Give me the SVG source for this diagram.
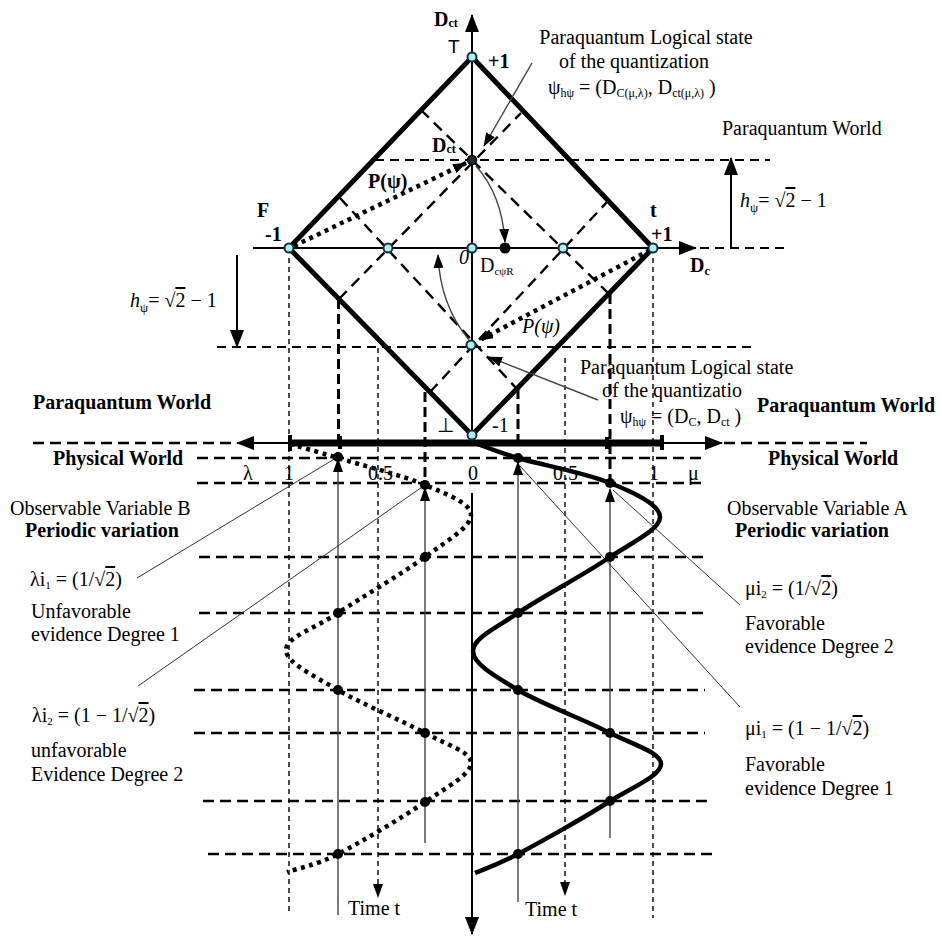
<svg xmlns="http://www.w3.org/2000/svg" width="942" height="936" viewBox="0 0 942 936">
<defs>
<marker id="ah" markerUnits="userSpaceOnUse" markerWidth="18" markerHeight="14" refX="17" refY="7" orient="auto-start-reverse"><path d="M0,0 L18,7 L0,14 z" fill="#000"/></marker>
<marker id="ahs" markerUnits="userSpaceOnUse" markerWidth="14" markerHeight="10" refX="13" refY="5" orient="auto-start-reverse"><path d="M0,0 L14,5 L0,10 z" fill="#000"/></marker>
</defs>
<style>
.t{font-family:"Liberation Serif","Times New Roman",serif;font-size:20px;fill:#000}
.b{font-weight:bold}
.i{font-style:italic}
.thick{stroke:#000;stroke-width:5;fill:none;stroke-linejoin:miter}
.axis{stroke:#000;stroke-width:2;fill:none}
.dg{stroke:#000;stroke-width:2.4;stroke-dasharray:11 7;fill:none}
.dh{stroke:#000;stroke-width:2.6;stroke-dasharray:11 6;fill:none}
.dl{stroke:#000;stroke-width:1.8;stroke-dasharray:9 6;fill:none}
.dt{stroke:#000;stroke-width:1.4;stroke-dasharray:5 4;fill:none}
.dv{stroke:#000;stroke-width:3;stroke-dasharray:10 5;fill:none}
.thin{stroke:#444;stroke-width:1.4;fill:none}
.lead{stroke:#333;stroke-width:1;fill:none}
.dotted{stroke:#000;stroke-width:4.5;stroke-dasharray:4 4.5;fill:none}
.dot{fill:#000}
.node{fill:#aeeef5;stroke:#1b2c3c;stroke-width:2}
</style>

<g id="grid">
<path class="dl" d="M375,160 L770,160"/>
<path class="dl" d="M217,347 L752,347"/>
<path class="dl" d="M700,248 L790,248"/>
<path class="dh" d="M33,443 L232,443 M724,443 L867,443"/>
<path class="dh" d="M197,458 L705,458"/>
<path class="dh" d="M197,483 L703,483"/>
<path class="dh" d="M199,557 L708,557"/>
<path class="dh" d="M199,613 L708,613"/>
<path class="dh" d="M194,690 L705,690"/>
<path class="dh" d="M194,733 L705,733"/>
<path class="dh" d="M203,801 L713,801"/>
<path class="dh" d="M208,854 L718,854"/>
<path class="dt" d="M289,258 L289,913"/>
<path class="dt" d="M653,258 L653,918"/>
<path class="dt" d="M378,348 L378,897" marker-end="url(#ahs)"/>
<path class="dt" d="M565,358 L565,895" marker-end="url(#ahs)"/>
<path class="dv" d="M338.5,299 L338.5,443"/>
<path class="dv" d="M425,392 L425,482"/>
<path class="dv" d="M518,389 L518,443"/>
<path class="dv" d="M610,294 L610,480"/>
<path class="thin" d="M338,459 L338,915" marker-start="url(#ahs)"/>
<path class="thin" d="M425,488 L425,843" marker-start="url(#ahs)"/>
<path class="thin" d="M518,462 L518,902" marker-start="url(#ahs)"/>
<path class="thin" d="M610,489 L610,838" marker-start="url(#ahs)"/>
</g>

<g id="diamond">
<path class="dg" d="M339,299 L521,113"/>
<path class="dg" d="M430,392 L607,202"/>
<path class="dg" d="M421,110 L609,294"/>
<path class="dg" d="M340,198 L517,389"/>
<polygon class="thick" points="472,57 653,248 472,435 289,248"/>
</g>

<g id="axes">
<path class="axis" d="M472,442 L472,15" marker-end="url(#ah)"/>
<path class="axis" d="M472,493 L472,934" marker-end="url(#ah)"/>
<path class="axis" d="M253,248 L696,248" marker-end="url(#ah)"/>
<path class="axis" d="M237,443 L722,443" marker-start="url(#ah)" marker-end="url(#ah)"/>
<path stroke="#000" stroke-width="7" d="M288,443 L664,443"/>
<path stroke="#000" stroke-width="4" d="M290,435 L290,451 M340,436 L340,449 M607,437 L607,449 M662,435 L662,450"/>
<path class="axis" d="M731,248 L731,158" marker-end="url(#ah)"/>
<path class="axis" d="M237,255 L237,347" marker-end="url(#ah)"/>
</g>

<g id="connectors">
<path class="dotted" d="M294,246 L466,163" marker-end="url(#ahs)"/>
<path class="dotted" d="M650,250 L480,340" marker-end="url(#ahs)"/>
<path class="thin" stroke="#000" d="M476,166 Q502,195 505,242" marker-end="url(#ahs)"/>
<path class="thin" stroke="#000" d="M469,340 Q440,305 438,255" marker-end="url(#ahs)"/>
<path class="thin" stroke="#000" d="M532,63 L484,146" marker-end="url(#ahs)"/>
<path class="thin" stroke="#000" d="M598,400 L489,357" marker-end="url(#ahs)"/>
<path class="lead" d="M137,578 L336,458"/>
<path class="lead" d="M138,686 L422,487"/>
<path class="lead" d="M520,466 L740,707"/>
<path class="lead" d="M613,490 L740,605"/>
</g>

<g id="curves">
<path stroke="#000" stroke-width="4.5" fill="none" d="M472,442 C479.7,444.7 494.8,451.2 518,458 C541.2,464.8 587.3,473.2 610,483 C634.7,492.8 660,504.7 660,517 C660,529.3 634.7,541 610,557 C587.3,573 541,597.3 518,613 C495,628.7 473,638.2 473,651 C473,663.8 495,676.3 518,690 C541,703.7 587.2,720.7 610,733 C634.8,745.3 661,752.7 661,764 C661,775.3 634.8,786 610,801 C587.2,816 540.7,842 518,854 C495.3,866 482.2,869.8 475,873"/>
<path class="dotted" d="M290,444 C298,446.3 315.5,451.2 338,458 C360.5,464.8 402.8,475.5 425,485 C447.2,494.5 471,503 471,515 C471,527 447.2,540.7 425,557 C402.8,573.3 361.2,597.5 338,613 C314.8,628.5 286,637.2 286,650 C286,662.8 314.8,676.2 338,690 C361.2,703.8 402.8,720.8 425,733 C447.2,745.2 471,751.5 471,763 C471,774.5 447.2,786.8 425,802 C402.8,817.2 361,842.3 338,854 C315,865.7 295.5,869 287,872"/>
<g class="dot">
<circle cx="338" cy="457" r="5"/><circle cx="425" cy="485" r="5"/><circle cx="425" cy="557" r="5"/><circle cx="338" cy="613" r="5"/>
<circle cx="338" cy="690" r="5"/><circle cx="425" cy="733" r="5"/><circle cx="425" cy="802" r="5"/><circle cx="338" cy="854" r="5"/>
<circle cx="518" cy="458" r="5"/><circle cx="610" cy="483" r="5"/><circle cx="610" cy="557" r="5"/><circle cx="518" cy="613" r="5"/>
<circle cx="518" cy="690" r="5"/><circle cx="610" cy="733" r="5"/><circle cx="610" cy="801" r="5"/><circle cx="518" cy="854" r="5"/>
<circle cx="505" cy="248" r="5.5"/>
</g>
</g>

<g id="nodes">
<circle id="n-T" class="node" cx="472" cy="57" r="4.5"/>
<circle id="n-F" class="node" cx="289" cy="248" r="4.5"/>
<circle id="n-t" class="node" cx="653" cy="248" r="4.5"/>
<circle id="n-0" class="node" cx="472" cy="248" r="4.5"/>
<circle id="n-l" class="node" cx="388" cy="248" r="4.5"/>
<circle id="n-r" class="node" cx="563" cy="248" r="4.5"/>
<circle id="n-bot" class="node" cx="472" cy="435" r="4.5"/>
<circle id="n-psi1" cx="472" cy="160" r="4.5" fill="#1b2c3c" stroke="#000" stroke-width="1.5"/>
<circle id="n-psi2" class="node" cx="471" cy="345" r="4.5" fill="#5aa"/>
</g>

<g id="labels">
<text class="t b" x="434" y="26">D<tspan font-size="12" dy="1">ct</tspan></text>
<text x="448" y="53" font-family="'Liberation Sans',Arial,sans-serif" font-size="19">T</text>
<text class="t b" x="488" y="68">+1</text>
<text class="t" x="646" y="44" text-anchor="middle">Paraquantum Logical state</text>
<text class="t" x="634" y="68" text-anchor="middle">of the quantization</text>
<text class="t" x="548" y="94">ψ<tspan font-size="12" dy="3">hψ</tspan><tspan dy="-3"> = (D</tspan><tspan font-size="12" dy="3">C(μ,λ)</tspan><tspan dy="-3">, D</tspan><tspan font-size="12" dy="3">ct(μ,λ)</tspan><tspan dy="-3"> )</tspan></text>
<text class="t" x="722" y="135">Paraquantum World</text>
<text class="t" x="740" y="207" font-size="21"><tspan class="i">h</tspan><tspan font-size="13" dy="5">ψ</tspan><tspan dy="-5">= √</tspan><tspan style="text-decoration:overline">2</tspan> − 1</text>
<text class="t b" x="432" y="152">D<tspan font-size="12" dy="1">ct</tspan></text>
<text class="t b" x="368" y="188">P(ψ)</text>
<text class="t b" x="257" y="217">F</text>
<text class="t b" x="265" y="241">-1</text>
<text class="t b" x="650" y="217">t</text>
<text class="t b" x="651" y="241">+1</text>
<text class="t b" x="690" y="272">D<tspan font-size="12" dy="3">c</tspan></text>
<text class="t i" x="459" y="264" font-size="16">0</text>
<text class="t" x="480" y="272" font-size="18">D<tspan font-size="11" dy="3">cψR</tspan></text>
<text class="t" x="130" y="307" font-size="21"><tspan class="i">h</tspan><tspan font-size="13" dy="5">ψ</tspan><tspan dy="-5">= √</tspan><tspan style="text-decoration:overline">2</tspan> − 1</text>
<text class="t i" x="522" y="333">P(ψ)</text>
<text class="t" x="580" y="374">Paraquantum Logical state</text>
<text class="t" x="602" y="397">of the quantizatio</text>
<text class="t" x="620" y="423">ψ<tspan font-size="12" dy="3">hψ</tspan><tspan dy="-3"> = (D</tspan><tspan font-size="12" dy="3">C</tspan><tspan dy="-3">, D</tspan><tspan font-size="12" dy="3">ct</tspan><tspan dy="-3"> )</tspan></text>
<text class="t b" x="33" y="409">Paraquantum World</text>
<text class="t b" x="757" y="412">Paraquantum World</text>
<text class="t" x="437" y="432" font-size="22">⊥</text>
<text class="t" x="492" y="432">-1</text>
<text class="t b" x="53" y="465">Physical World</text>
<text class="t b" x="768" y="465">Physical World</text>
<text class="t" x="243" y="480" font-size="21">λ</text>
<text class="t" x="284" y="480" font-size="21">1</text>
<text class="t" x="368" y="480" font-size="21">0.5</text>
<text class="t" x="468" y="480" font-size="21">0</text>
<text class="t" x="553" y="480" font-size="21">0.5</text>
<text class="t" x="649" y="480" font-size="21">1</text>
<text class="t" x="688" y="480" font-size="21">μ</text>
<text class="t" x="10" y="515">Observable Variable B</text>
<text class="t b" x="25" y="537">Periodic variation</text>
<text class="t" x="30" y="586" font-size="18">λi<tspan font-size="11" dy="3">1</tspan><tspan dy="-3"> = (1/√</tspan><tspan style="text-decoration:overline">2</tspan>)</text>
<text class="t" x="31" y="618">Unfavorable</text>
<text class="t" x="31" y="641">evidence Degree 1</text>
<text class="t" x="32" y="722" font-size="18">λi<tspan font-size="11" dy="3">2</tspan><tspan dy="-3"> = (1 − 1/√</tspan><tspan style="text-decoration:overline">2</tspan>)</text>
<text class="t" x="31" y="757">unfavorable</text>
<text class="t" x="31" y="781">Evidence Degree 2</text>
<text class="t" x="727" y="515">Observable Variable A</text>
<text class="t b" x="735" y="537">Periodic variation</text>
<text class="t" x="745" y="595" font-size="18">μi<tspan font-size="11" dy="3">2</tspan><tspan dy="-3"> = (1/√</tspan><tspan style="text-decoration:overline">2</tspan>)</text>
<text class="t" x="745" y="630">Favorable</text>
<text class="t" x="745" y="653">evidence Degree 2</text>
<text class="t" x="745" y="735" font-size="18">μi<tspan font-size="11" dy="3">1</tspan><tspan dy="-3"> = (1 − 1/√</tspan><tspan style="text-decoration:overline">2</tspan>)</text>
<text class="t" x="745" y="771">Favorable</text>
<text class="t" x="745" y="795">evidence Degree 1</text>
<text class="t" x="348" y="915">Time t</text>
<text class="t" x="525" y="916">Time t</text>
</g>
</svg>
